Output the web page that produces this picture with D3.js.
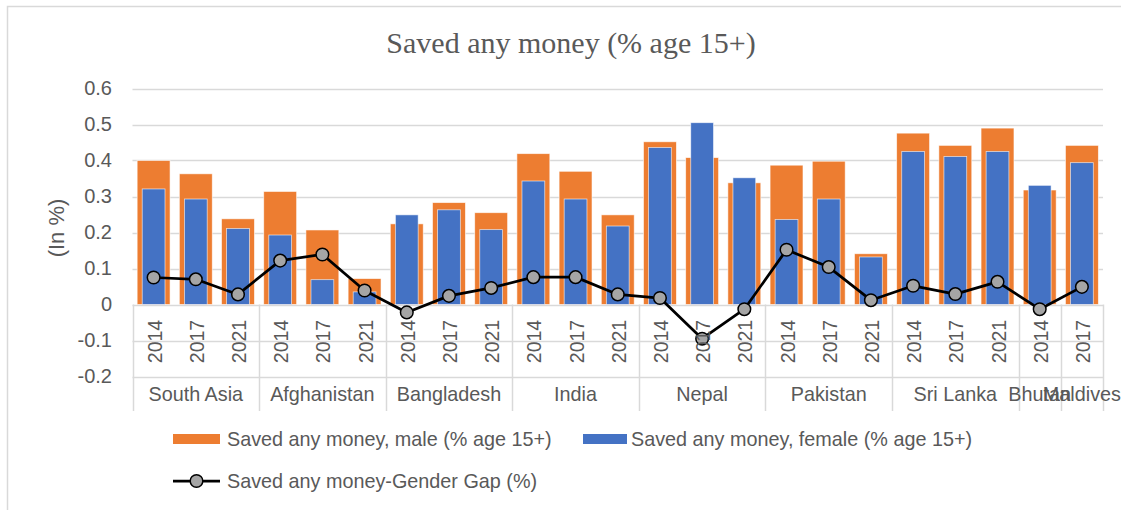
<!DOCTYPE html>
<html>
<head>
<meta charset="utf-8">
<script src="https://cdn.jsdelivr.net/npm/d3@7"></script>
<style>
  html, body { margin: 0; padding: 0; background: #fff; }
  svg { display: block; }
  text { font-family: "Liberation Sans", Arial, sans-serif; fill: #595959; }
</style>
</head>
<body>
<svg id="chart" width="1121" height="510"></svg>
<script>
const title = "Saved any money (% age 15+)";
const yAxisTitle = "(In %)";
const groups = ["South Asia", "Afghanistan", "Bangladesh", "India", "Nepal", "Pakistan", "Sri Lanka", "Bhutan", "Maldives"];
const categoryGroup = [
  "South Asia", "South Asia", "South Asia",
  "Afghanistan", "Afghanistan", "Afghanistan",
  "Bangladesh", "Bangladesh", "Bangladesh",
  "India", "India", "India",
  "Nepal", "Nepal", "Nepal",
  "Pakistan", "Pakistan", "Pakistan",
  "Sri Lanka", "Sri Lanka", "Sri Lanka",
  "Bhutan", "Maldives"
];
const categoryYear = [
  "2014", "2017", "2021",
  "2014", "2017", "2021",
  "2014", "2017", "2021",
  "2014", "2017", "2021",
  "2014", "2017", "2021",
  "2014", "2017", "2021",
  "2014", "2017", "2021",
  "2014", "2017"
];
const maleValues = [0.400, 0.363, 0.238, 0.314, 0.207, 0.072, 0.224, 0.283, 0.255, 0.419, 0.370, 0.249, 0.452, 0.408, 0.338, 0.387, 0.398, 0.141, 0.476, 0.442, 0.490, 0.318, 0.442];
const femaleValues = [0.321, 0.293, 0.211, 0.193, 0.069, 0.035, 0.249, 0.263, 0.208, 0.343, 0.293, 0.218, 0.436, 0.505, 0.352, 0.236, 0.293, 0.132, 0.425, 0.411, 0.425, 0.331, 0.394];
const gapValues = [0.075, 0.070, 0.028, 0.122, 0.139, 0.039, -0.022, 0.024, 0.046, 0.076, 0.076, 0.028, 0.018, -0.095, -0.013, 0.152, 0.104, 0.012, 0.052, 0.029, 0.063, -0.013, 0.049];
const yTickValues = [-0.2, -0.1, 0, 0.1, 0.2, 0.3, 0.4, 0.5, 0.6];
const yTickLabels = ["-0.2", "-0.1", "0", "0.1", "0.2", "0.3", "0.4", "0.5", "0.6"];
const seriesNames = ["Saved any money, male (% age 15+)", "Saved any money, female (% age 15+)", "Saved any money-Gender Gap (%)"];

const COLORS = { male: "#ED7D31", female: "#4472C4", grid: "#D9D9D9", line: "#000000", marker: "#A5A5A5" };

const svg = d3.select("#chart");
const W = 1121, H = 510;
const plot = { left: 132.5, right: 1103, top: 88.5, bottom: 376.5 };
const tableBottom = 411;
const FS = "19.8px";

// chart border
svg.append("path")
  .attr("d", `M7.5,${H} L7.5,6.5 L${W},6.5`)
  .attr("fill", "none").attr("stroke", COLORS.grid).attr("stroke-width", 1.5);

const idx = d3.range(categoryYear.length);
const x = d3.scaleBand().domain(idx).range([plot.left, plot.right]).paddingInner(0).paddingOuter(0);
const y = d3.scaleLinear().domain([-0.2, 0.6]).range([plot.bottom, plot.top]);

// gridlines
svg.append("g").selectAll("line").data(yTickValues).join("line")
  .attr("x1", plot.left).attr("x2", plot.right)
  .attr("y1", d => Math.round(y(d)) + 0.5).attr("y2", d => Math.round(y(d)) + 0.5)
  .attr("stroke", COLORS.grid).attr("stroke-width", 1.5);

// y tick labels via axis
const yAxis = d3.axisLeft(y).tickValues(yTickValues).tickSize(0).tickPadding(0)
  .tickFormat((d, i) => yTickLabels[i]);
const yg = svg.append("g").attr("transform", `translate(112,0)`).call(yAxis);
yg.select(".domain").remove();
yg.selectAll("text").style("font-size", "20px").attr("fill", "#595959")
  .style("font-family", '"Liberation Sans", Arial, sans-serif');

// y axis title
svg.append("text")
  .attr("transform", `translate(56,228) rotate(-90)`)
  .attr("text-anchor", "middle").attr("dominant-baseline", "central")
  .style("font-size", "22px").text(yAxisTitle);

// title
svg.append("text")
  .attr("x", 571).attr("y", 53).attr("text-anchor", "middle")
  .style("font-family", '"Liberation Serif", "Times New Roman", serif')
  .style("font-size", "30px").text(title);

// category table vertical lines (group boundaries)
const groupRanges = groups.map(g => {
  const members = idx.filter(i => categoryGroup[i] === g);
  return { g, start: x(members[0]), end: x(members[members.length - 1]) + x.bandwidth() };
});
const boundaries = [plot.left].concat(groupRanges.map(r => r.end));
svg.append("g").selectAll("line").data(boundaries).join("line")
  .attr("x1", d => Math.round(d) + 0.5).attr("x2", d => Math.round(d) + 0.5)
  .attr("y1", y(0)).attr("y2", tableBottom)
  .attr("stroke", COLORS.grid).attr("stroke-width", 1.5);

// bars
const bw = x.bandwidth();
svg.append("g").selectAll("rect").data(idx).join("rect")
  .attr("x", i => x(i) + bw * 0.11).attr("width", bw * 0.78)
  .attr("y", i => y(maleValues[i])).attr("height", i => y(0) - y(maleValues[i]))
  .attr("fill", COLORS.male).attr("stroke", "#fff").attr("stroke-width", 0.8).attr("stroke-opacity", 0.7);
svg.append("g").selectAll("rect").data(idx).join("rect")
  .attr("x", i => x(i) + bw * 0.23).attr("width", bw * 0.54)
  .attr("y", i => y(femaleValues[i])).attr("height", i => y(0) - y(femaleValues[i]))
  .attr("fill", COLORS.female).attr("stroke", "#fff").attr("stroke-width", 0.8).attr("stroke-opacity", 0.7);

// gap line
const line = d3.line().x(i => x(i) + bw / 2).y(i => y(gapValues[i]));
svg.append("path").datum(idx).attr("d", line)
  .attr("fill", "none").attr("stroke", COLORS.line).attr("stroke-width", 2.75).attr("stroke-linejoin", "round");
svg.append("g").selectAll("circle").data(idx).join("circle")
  .attr("cx", i => x(i) + bw / 2).attr("cy", i => y(gapValues[i])).attr("r", 6.3)
  .attr("fill", COLORS.marker).attr("stroke", COLORS.line).attr("stroke-width", 1.5);

// year labels
svg.append("g").selectAll("text").data(idx).join("text")
  .attr("transform", i => `translate(${x(i) + bw / 2 + 1},341.5) rotate(-90)`)
  .attr("text-anchor", "middle").attr("dominant-baseline", "central")
  .style("font-size", "19.5px").text(i => categoryYear[i]);

// group labels
svg.append("g").selectAll("text").data(groupRanges).join("text")
  .attr("x", r => (r.start + r.end) / 2).attr("y", 400.5)
  .attr("text-anchor", "middle")
  .style("font-size", FS).text(r => r.g);

// legend
const leg = svg.append("g");
leg.append("rect").attr("x", 173).attr("y", 434).attr("width", 47).attr("height", 10).attr("fill", COLORS.male);
leg.append("text").attr("x", 227).attr("y", 439).attr("dominant-baseline", "central").style("font-size", FS).text(seriesNames[0]);
leg.append("rect").attr("x", 583).attr("y", 434).attr("width", 44).attr("height", 10).attr("fill", COLORS.female);
leg.append("text").attr("x", 631).attr("y", 439).attr("dominant-baseline", "central").style("font-size", FS).text(seriesNames[1]);
leg.append("line").attr("x1", 173).attr("x2", 220).attr("y1", 481).attr("y2", 481).attr("stroke", COLORS.line).attr("stroke-width", 2.75);
leg.append("circle").attr("cx", 196.5).attr("cy", 481).attr("r", 6.3).attr("fill", COLORS.marker).attr("stroke", COLORS.line).attr("stroke-width", 1.5);
leg.append("text").attr("x", 227).attr("y", 481).attr("dominant-baseline", "central").style("font-size", FS).text(seriesNames[2]);
</script>
</body>
</html>
